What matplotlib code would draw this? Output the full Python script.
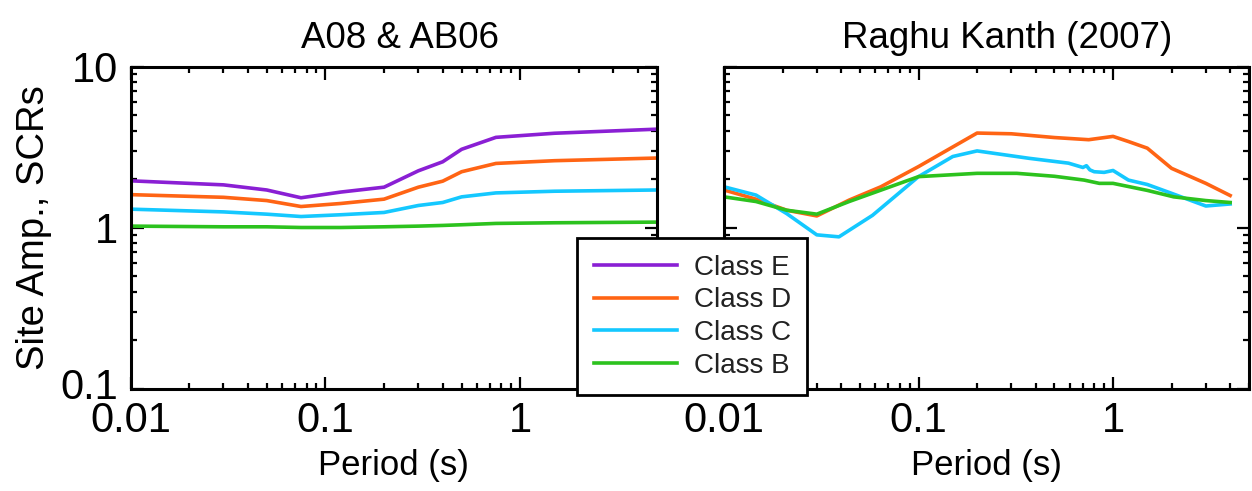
import matplotlib
matplotlib.use("Agg")
import matplotlib.pyplot as plt
from matplotlib.ticker import LogLocator, NullFormatter
from matplotlib.transforms import ScaledTranslation

plt.rcParams['font.family'] = ['Liberation Sans', 'DejaVu Sans']

# ---------------- data ----------------
classes = ["Class E", "Class D", "Class C", "Class B"]
colors = {"Class E": "#8A1FD4", "Class D": "#FF6414", "Class C": "#14C8FF", "Class B": "#2CC21E"}

# Left panel: A08 & AB06
left_T = [0.01, 0.03, 0.05, 0.075, 0.12, 0.2, 0.3, 0.4, 0.5, 0.75, 1.5, 5.0]
left_E = [1.95, 1.84, 1.71, 1.53, 1.66, 1.78, 2.25, 2.56, 3.06, 3.63, 3.85, 4.08]
left_D = [1.60, 1.54, 1.47, 1.35, 1.41, 1.50, 1.78, 1.94, 2.22, 2.50, 2.60, 2.70]
left_C = [1.30, 1.25, 1.21, 1.17, 1.20, 1.24, 1.37, 1.43, 1.55, 1.64, 1.68, 1.71]
left_B = [1.02, 1.01, 1.01, 1.00, 1.00, 1.01, 1.02, 1.03, 1.04, 1.06, 1.07, 1.08]

# Right panel: Raghu Kanth (2007)
right_T_D = [0.01, 0.0146, 0.021, 0.03, 0.044, 0.064, 0.1, 0.2, 0.3, 0.5, 0.75,
             1.0, 1.2, 1.5, 2.0, 3.0, 4.0]
right_D = [1.71, 1.50, 1.28, 1.18, 1.48, 1.79, 2.39, 3.86, 3.82, 3.62, 3.51,
           3.68, 3.42, 3.11, 2.33, 1.88, 1.58]
right_T_C = [0.01, 0.0146, 0.021, 0.03, 0.039, 0.058, 0.1, 0.15, 0.2, 0.37, 0.59,
             0.7, 0.73, 0.76, 0.8, 0.9, 1.0, 1.2, 1.5, 2.0, 3.0, 4.0]
right_C = [1.79, 1.59, 1.22, 0.90, 0.875, 1.19, 2.07, 2.76, 2.99, 2.69, 2.51,
           2.36, 2.42, 2.28, 2.22, 2.20, 2.26, 1.97, 1.85, 1.63, 1.36, 1.40]
right_T_B = [0.01, 0.0146, 0.021, 0.03, 0.044, 0.1, 0.2, 0.32, 0.5, 0.71, 0.85,
             1.0, 1.5, 2.05, 3.0, 4.0]
right_B = [1.55, 1.45, 1.28, 1.21, 1.45, 2.07, 2.17, 2.17, 2.08, 1.97, 1.88,
           1.88, 1.70, 1.55, 1.47, 1.43]

x_ticks = [0.01, 0.1, 1]
x_ticklabels = ["0.01", "0.1", "1"]
y_ticks = [0.1, 1, 10]
y_ticklabels = ["0.1", "1", "10"]
titles = ["A08 & AB06", "Raghu Kanth (2007)"]
xlabel = "Period (s)"
ylabel = "Site Amp., SCRs"

# ---------------- figure ----------------
W, H = 1252, 491
fig = plt.figure(figsize=(W / 100, H / 100), dpi=100)

def fx(px):
    return px / W

def fy(py):
    return 1 - py / H

ax1 = fig.add_axes([fx(130.5), fy(388.5), fx(526), 322 / H])
ax2 = fig.add_axes([fx(724), fy(388.5), fx(525), 322 / H])

lw = 2.6
ax1.plot(left_T, left_E, color=colors["Class E"], lw=lw, label="Class E")
ax1.plot(left_T, left_D, color=colors["Class D"], lw=lw, label="Class D")
ax1.plot(left_T, left_C, color=colors["Class C"], lw=lw, label="Class C")
ax1.plot(left_T, left_B, color=colors["Class B"], lw=lw, label="Class B")

ax2.plot(right_T_D, right_D, color=colors["Class D"], lw=lw)
ax2.plot(right_T_C, right_C, color=colors["Class C"], lw=lw)
ax2.plot(right_T_B, right_B, color=colors["Class B"], lw=lw)

for i, ax in enumerate([ax1, ax2]):
    ax.set_xscale("log")
    ax.set_yscale("log")
    ax.set_xlim(0.01, 5)
    ax.set_ylim(0.1, 10)
    ax.set_xticks(x_ticks)
    ax.set_xticklabels(x_ticklabels)
    ax.set_yticks(y_ticks)
    ax.set_yticklabels(y_ticklabels)
    ax.xaxis.set_minor_locator(LogLocator(base=10, subs=range(2, 10)))
    ax.yaxis.set_minor_locator(LogLocator(base=10, subs=range(2, 10)))
    ax.xaxis.set_minor_formatter(NullFormatter())
    ax.yaxis.set_minor_formatter(NullFormatter())
    ax.tick_params(which="both", direction="in", top=True, right=True, width=1.6,
                   colors="black")
    ax.tick_params(which="major", length=9, labelsize=30)
    ax.tick_params(which="minor", length=4.5)
    ax.tick_params(axis="x", which="major", pad=9)
    ax.tick_params(axis="y", which="major", pad=9)
    for s in ax.spines.values():
        s.set_linewidth(2.2)
    ax.set_xlabel(xlabel, fontsize=25, labelpad=6)
    ax.set_title(titles[i], fontsize=26.5, pad=13, x=0.512 if i == 0 else 0.54)

ax2.tick_params(axis="y", which="both", labelleft=False)
ax1.set_ylabel(ylabel, fontsize=27.5, labelpad=6)

# nudge the lowest y tick label up a little, as in the reference
fig.canvas.draw()
lab = ax1.get_yticklabels()[0]
lab.set_transform(lab.get_transform() + ScaledTranslation(0, 5 / 100, fig.dpi_scale_trans))

handles, labels = ax1.get_legend_handles_labels()
leg = fig.legend(handles, labels, loc="upper left",
                 bbox_to_anchor=(fx(577), fy(238)), borderaxespad=0,
                 fontsize=20, handlelength=3.0, handletextpad=0.6,
                 labelspacing=0.24, borderpad=0.6, fancybox=False,
                 framealpha=1, edgecolor="black", facecolor="white")
leg.get_frame().set_linewidth(2.0)
for t in leg.get_texts():
    t.set_color("#222222")

fig.savefig("out.png", dpi=100)
